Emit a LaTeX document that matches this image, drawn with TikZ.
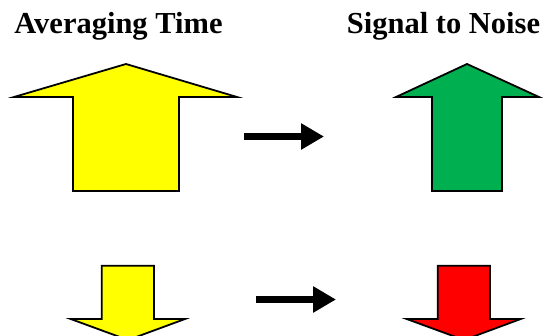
\documentclass[tikz,border=0pt]{standalone}
\usepackage{fontspec}
\setmainfont{Liberation Serif}
\usetikzlibrary{arrows.meta}
\definecolor{upgreen}{HTML}{00B050}
\definecolor{upyellow}{HTML}{FFFF00}
\tikzset{
  title/.style={font=\fontsize{30.5}{33}\selectfont\bfseries, inner sep=0pt, anchor=base},
  bigarrow/.style={draw=black, line width=1.8pt},
  leadsto/.style={line width=7.5pt, -{Triangle[length=23pt,width=25pt]}}
}
\begin{document}
\begin{tikzpicture}[x=1pt,y=-1pt]
   \useasboundingbox (0,0) rectangle (546,335);

   \node[title] (avg) at (118.5,33) {Averaging Time};
   \node[title] (snr) at (443.5,33) {Signal to Noise};

   \draw[bigarrow, fill=upyellow] (126,64) -- (237,97) -- (179,97) --
   (179,191) -- (73,191) -- (73,97) -- (14,97) -- cycle;
   \draw[bigarrow, fill=upgreen] (467,64) -- (539,97) -- (502,97) --
   (502,191) -- (432,191) -- (432,97) -- (396,97) -- cycle;

   \draw[bigarrow, fill=upyellow] (101.7,265.7) -- (154,265.7) -- (154,319) --
   (185,319) -- (128,340) -- (70.7,319) -- (101.7,319) -- cycle;
   \draw[bigarrow, fill=red] (437.7,265.7) -- (490,265.7) -- (490,319) --
   (520.7,319) -- (464,340) -- (406.7,319) -- (437.7,319) -- cycle;

   \coordinate (up1) at (244,136.5);
   \coordinate (up2) at (324,136.5);
   \coordinate (dn1) at (256,299.5);
   \coordinate (dn2) at (336,299.5);
   \draw[leadsto] (up1) -- (up2);
   \draw[leadsto] (dn1) -- (dn2);

 \end{tikzpicture}
\end{document}
